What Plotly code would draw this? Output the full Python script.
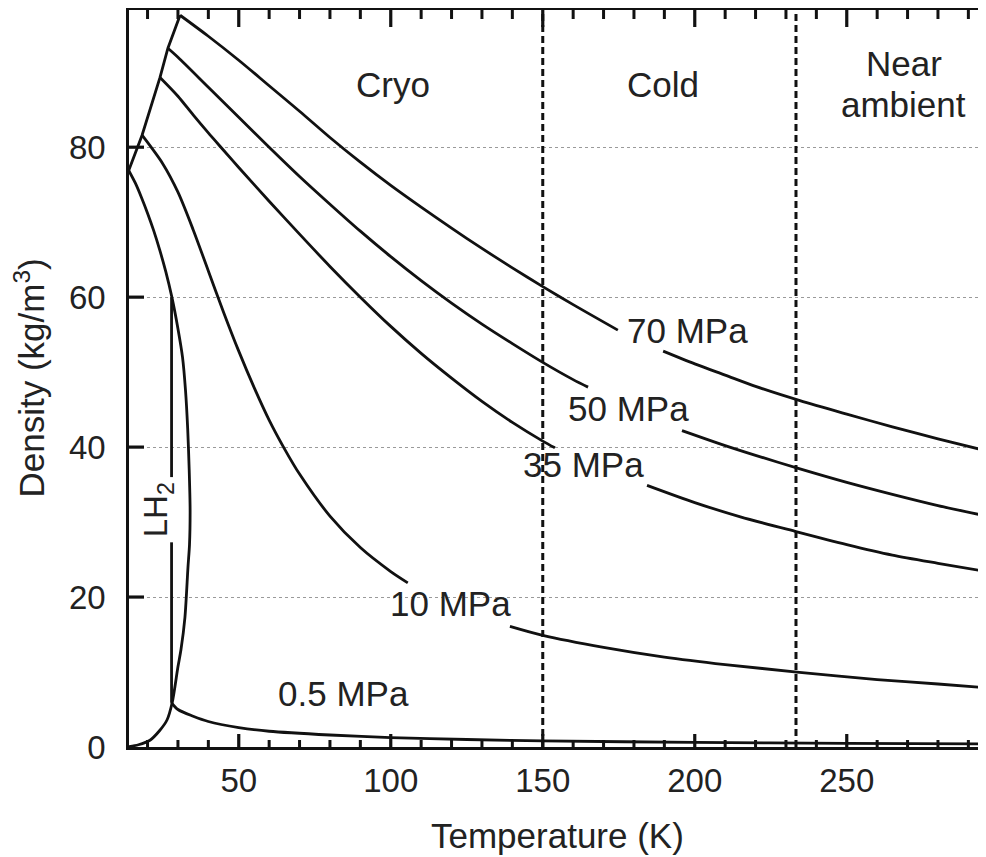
import plotly.graph_objects as go

# ---- data: temperature (K) and density (kg/m^3) ----
t_70 = [30.7, 40, 50, 60, 70, 80, 90, 100, 110, 120, 130, 140, 150, 160, 174.7, None,
        189.6, 200, 210, 220, 234.6, 250, 265, 280, 296]
rho_70 = [97.6, 94.8, 91.6, 88.2, 84.8, 81.3, 78.0, 74.9, 72.0, 69.2, 66.5, 63.9, 61.4, 59.0, 55.6, None,
          52.8, 51.1, 49.6, 48.1, 46.2, 44.4, 42.7, 41.1, 39.5]

t_50 = [26.7, 30, 40, 50, 60, 70, 80, 90, 100, 110, 120, 130, 140, 150, 160, 164.9, None,
        195.8, 210, 220, 234.6, 250, 265, 280, 296]
rho_50 = [93.2, 92.0, 88.0, 84.0, 80.0, 76.1, 72.4, 68.8, 65.4, 62.2, 59.2, 56.4, 53.8, 51.3, 49.0, 48.0, None,
          42.2, 40.2, 38.9, 37.1, 35.3, 33.7, 32.2, 30.8]

t_35 = [24.1, 30, 35, 40, 45, 50, 60, 70, 80, 90, 100, 110, 120, 130, 140, 150, 154, None,
        184.3, 200, 215, 233.6, 250, 265, 280, 296]
rho_35 = [89.3, 86.8, 84.3, 81.9, 79.6, 77.3, 72.8, 68.4, 64.1, 60.0, 56.1, 52.5, 49.2, 46.1, 43.3, 40.8, 39.9, None,
          34.9, 32.6, 30.7, 28.7, 27.0, 25.6, 24.5, 23.4]

t_10 = [18.2, 25, 30, 35, 40, 45, 50, 55, 60, 65, 70, 80, 90, 100, 105.6, None,
        139.2, 150, 170, 190, 210, 233.6, 260, 280, 296]
rho_10 = [81.6, 77.8, 74.0, 69.0, 63.5, 58.0, 52.8, 48.0, 43.6, 39.8, 36.4, 30.8, 26.6, 23.4, 21.9, None,
          16.1, 14.9, 13.3, 12.0, 11.0, 10.0, 9.0, 8.4, 7.9]

t_05 = [27.9, 30, 35, 40, 50, 60, 80, 100, 125, 150, 200, 250, 296]
rho_05 = [5.9, 5.0, 4.1, 3.4, 2.6, 2.1, 1.6, 1.25, 1.0, 0.82, 0.61, 0.49, 0.41]

# liquid-vapour coexistence line of LH2 (liquid branch -> critical point -> vapour branch)
t_sat = [13.8, 16, 18, 20, 22, 24, 26, 28, 30, 31.5, 32.5, 33.2, 33.7, 34.0, 33.8, 33.3,
         32.3, 31.0, 30.0, 28.1, 26.4, 24.0, 20.8, 17.0, 13.8]
rho_sat = [76.9, 75.2, 73.3, 71.2, 68.9, 66.3, 63.4, 60.0, 55.8, 52.0, 47.5, 42.5, 37.0, 31.6, 27.0, 24.0,
           17.3, 13.0, 10.7, 5.9, 3.6, 2.2, 0.9, 0.3, 0.05]

# two-phase (boiling) segment at 0.5 MPa, broken by the LH2 label
t_boil = [27.9, 27.9, None, 27.9, 27.9]
rho_boil = [60.0, 36.0, None, 27.3, 5.9]

# melting line (start points of the isobars)
t_melt = [13.8, 18.2, 24.1, 26.7, 30.7]
rho_melt = [76.9, 81.6, 89.3, 93.2, 97.6]

region_bounds = [150, 233.3]
region_names = ["Cryo", "Cold", "Near", "ambient"]
region_x = [100.8, 189.4, 268.7, 268.7]
region_y = [88.3, 88.3, 91.2, 85.7]

curve_labels = ["70 MPa", "50 MPa", "35 MPa", "10 MPa", "0.5 MPa"]
label_x = [197.6, 178.1, 163.3, 119.8, 84.3]
label_y = [55.5, 45.1, 37.7, 19.1, 7.1]

x_ticks = [50, 100, 150, 200, 250]
x_minor_ticks = [20, 30, 40, 60, 70, 80, 90, 110, 120, 130, 140, 160, 170, 180, 190,
                 210, 220, 230, 240, 260, 270, 280, 290]
y_ticks = [0, 20, 40, 60, 80]
x_range = [13.9, 295.8]
y_range = [0, 98.3]

INK = "#111111"
FONT = "Arial, 'Liberation Sans', Helvetica, sans-serif"

W, H = 978, 849
M = dict(l=121, r=0, t=2, b=110)
px_per_x = (W - M["l"] - M["r"]) / (x_range[1] - x_range[0])
px_per_y = (H - M["t"] - M["b"]) / (y_range[1] - y_range[0])

fig = go.Figure()

def add_curve(x, y, smooth=True, width=2.8):
    fig.add_trace(go.Scatter(
        x=x, y=y, mode="lines", connectgaps=False, hoverinfo="skip", showlegend=False,
        cliponaxis=False,
        line=dict(color=INK, width=width, shape="spline" if smooth else "linear",
                  smoothing=0.8 if smooth else 0)))

add_curve(t_70, rho_70)
add_curve(t_50, rho_50)
add_curve(t_35, rho_35)
add_curve(t_10, rho_10)
add_curve(t_05, rho_05)
add_curve(t_sat, rho_sat)
add_curve(t_boil, rho_boil, smooth=False)
add_curve(t_melt, rho_melt, smooth=False)

# inward frame tick marks, built from the tick value lists (lengths given in pixels)
def x_tick_path(values, len_bottom, len_top):
    xs, ys = [], []
    for v in values:
        xs += [v, v, None, v, v, None]
        ys += [y_range[0], y_range[0] + len_bottom / px_per_y, None,
               y_range[1], y_range[1] - len_top / px_per_y, None]
    return xs, ys

xs, ys = x_tick_path(x_ticks, 13, 17)
add_curve(xs, ys, smooth=False, width=3.2)
xs, ys = x_tick_path(x_minor_ticks, 7, 9)
add_curve(xs, ys, smooth=False, width=3)
yx, yy = [], []
for v in y_ticks[1:]:
    yx += [x_range[0], x_range[0] + 15 / px_per_x, None]
    yy += [v, v, None]
add_curve(yx, yy, smooth=False, width=3.2)

for xb in region_bounds:
    fig.add_shape(type="line", xref="x", yref="paper", x0=xb, x1=xb, y0=0, y1=1,
                  line=dict(color=INK, width=3, dash="7px,4px"), layer="above")

ann = []
for txt, x, y in zip(region_names, region_x, region_y):
    ann.append(dict(text=txt, x=x, y=y, xref="x", yref="y", showarrow=False,
                    font=dict(size=35, color="#222", family=FONT)))
for txt, x, y in zip(curve_labels, label_x, label_y):
    ann.append(dict(text=txt, x=x, y=y, xref="x", yref="y", showarrow=False,
                    font=dict(size=35, color="#222", family=FONT)))
ann.append(dict(text="LH<sub>2</sub>", x=23.5, y=31.6, xref="x", yref="y", showarrow=False,
                textangle=-90, font=dict(size=33, color="#222", family=FONT)))
ann.append(dict(text="Temperature (K)", x=0.5, y=0, xref="paper", yref="paper", yshift=-88,
                yanchor="middle", showarrow=False, font=dict(size=35, color="#222", family=FONT)))
ann.append(dict(text="Density (kg/m<sup>3</sup>)", x=0, y=0.5, xref="paper", yref="paper",
                xshift=-100, xanchor="center", textangle=-90, showarrow=False,
                font=dict(size=35, color="#222", family=FONT)))

# the page body has an 8 px margin, so the figure is 8 px smaller and margins shifted
fig.update_layout(
    width=W, height=H,
    margin=M,
    paper_bgcolor="white", plot_bgcolor="white",
    font=dict(family=FONT, color="#222"),
    annotations=ann,
    xaxis=dict(range=x_range, tickvals=x_ticks, ticks="",
               showline=True, linewidth=2.5, linecolor=INK, mirror=True,
               showgrid=False, zeroline=False, tickfont=dict(size=33, color="#222"),
               ticklabelstandoff=3),
    yaxis=dict(range=y_range, tickvals=y_ticks, ticks="",
               showline=True, linewidth=2.5, linecolor=INK,
               showgrid=True, gridcolor="#9a9a9a", gridwidth=1, griddash="dot", zeroline=False,
               tickfont=dict(size=33, color="#222"), ticklabelstandoff=14),
)

fig.write_html("out.html")
